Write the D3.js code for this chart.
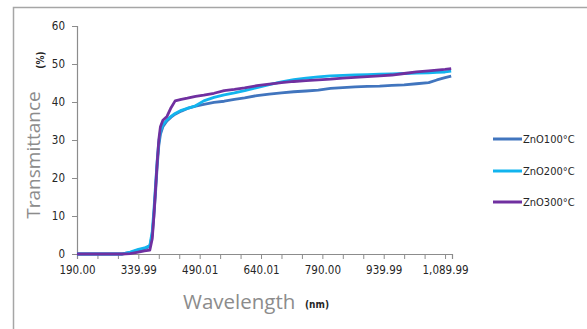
<!DOCTYPE html>
<html>
<head>
<meta charset="utf-8">
<script src="https://cdn.jsdelivr.net/npm/d3@7"></script>
<style>
  body { margin: 0; background: #fff; }
  svg { display: block; }
  .tick text { font-family: "Liberation Sans Narrow", "DejaVu Sans Condensed", sans-serif; font-size: 11.5px; fill: #262626; }
</style>
</head>
<body>
<svg id="chart" width="587" height="329"></svg>
<script>
// wavelengths (nm) shared by all three series
const wavelength = [190, 250, 300, 320, 340, 355, 368, 374, 378, 382, 386, 390, 394, 400, 410, 420, 430, 445, 460, 480, 500, 525, 550, 575, 600, 630, 660, 690, 720, 750, 780, 810, 840, 870, 900, 930, 960, 990, 1020, 1050, 1070, 1090, 1105];

const zno100 = [0, 0, 0, 0.4, 1.0, 1.4, 2.0, 5, 10, 16, 23, 28.5, 31.5, 33.5, 35, 36, 36.8, 37.6, 38.3, 38.9, 39.4, 39.9, 40.2, 40.7, 41.1, 41.7, 42.1, 42.4, 42.7, 42.9, 43.1, 43.6, 43.8, 44.0, 44.1, 44.2, 44.4, 44.5, 44.8, 45.1, 45.8, 46.4, 46.8];
const zno200 = [0, 0, 0, 0.5, 1.2, 1.6, 2.2, 6, 11.5, 18, 24.5, 29.5, 32.2, 34, 35.3, 36.2, 37, 37.8, 38.3, 39.0, 40.3, 41.2, 41.9, 42.4, 43.0, 43.8, 44.6, 45.3, 45.9, 46.3, 46.6, 46.9, 47.0, 47.1, 47.2, 47.3, 47.4, 47.5, 47.6, 47.7, 47.8, 47.9, 48.1];
const zno300 = [0, 0, 0, 0.1, 0.5, 0.8, 1.0, 4, 10, 17, 24, 30, 33.5, 35.2, 36.2, 38.5, 40.3, 40.7, 41.0, 41.5, 41.8, 42.3, 43.0, 43.3, 43.7, 44.3, 44.7, 45.1, 45.4, 45.6, 45.8, 46.0, 46.3, 46.5, 46.7, 46.9, 47.1, 47.5, 47.9, 48.2, 48.4, 48.6, 48.8];

const seriesNames = ['ZnO100°C', 'ZnO200°C', 'ZnO300°C'];
const seriesColors = ['#4175BE', '#12B4EE', '#7030A0'];

const xTickValues = [190, 240, 290, 340, 390, 440, 490, 540, 590, 640, 690, 740, 790, 840, 890, 940, 990, 1040, 1090];
const xTickLabels = ['190.00', '339.99', '490.01', '640.01', '790.00', '939.99', '1,089.99'];
const yTicks = [0, 10, 20, 30, 40, 50, 60];

const svg = d3.select('#chart');

// outer chart frame (only top/left edges fall inside the picture)
svg.append('rect')
    .attr('x', 13.5)
    .attr('y', 7.5)
    .attr('width', 700)
    .attr('height', 500)
    .attr('fill', 'none')
    .attr('stroke', '#a6a6a6')
    .attr('stroke-width', 1.5);

const x = d3.scaleLinear().domain([190, 1107]).range([77, 452]);
const y = d3.scaleLinear().domain([0, 60]).range([254, 26]);

// y axis
const yAxis = svg.append('g')
    .attr('transform', 'translate(77,0)')
    .call(d3.axisLeft(y).tickValues(yTicks).tickSize(5).tickPadding(7).tickFormat(d3.format('d')));

// x axis, a label on every third tick
const xAxis = svg.append('g')
    .attr('transform', 'translate(0,254)')
    .call(d3.axisBottom(x).tickValues(xTickValues).tickSize(5).tickPadding(7)
        .tickFormat((d, i) => (i % 3 === 0 ? xTickLabels[i / 3] : '')));

[xAxis, yAxis].forEach((g) => {
    g.select('.domain').attr('stroke', '#8c8c8c').attr('stroke-width', 1.2);
    g.selectAll('.tick line').attr('stroke', '#8c8c8c');
});

// lines
const series = [zno100, zno200, zno300];
const line = d3.line()
    .x((d, i) => x(wavelength[i]))
    .y((d) => y(d));

series.forEach((values, k) => {
    svg.append('path')
        .datum(values)
        .attr('fill', 'none')
        .attr('stroke', seriesColors[k])
        .attr('stroke-width', 2.8)
        .attr('stroke-linejoin', 'round')
        .attr('d', line);
});

// axis titles
svg.append('text')
    .attr('transform', 'translate(40,155) rotate(-90)')
    .attr('text-anchor', 'middle')
    .style('font-family', '"Open Sans", sans-serif')
    .style('font-size', '19px')
    .style('fill', '#8c8c8c')
    .text('Transmittance');

svg.append('text')
    .attr('transform', 'translate(44,60) rotate(-90)')
    .attr('text-anchor', 'middle')
    .style('font-family', '"Liberation Sans Narrow", "DejaVu Sans Condensed", sans-serif')
    .style('font-size', '10px')
    .style('font-weight', 'bold')
    .style('fill', '#262626')
    .text('(%)');

svg.append('text')
    .attr('x', 183)
    .attr('y', 309)
    .style('font-family', '"Open Sans", sans-serif')
    .style('font-size', '20.5px')
    .style('fill', '#8c8c8c')
    .text('Wavelength');

svg.append('text')
    .attr('x', 305)
    .attr('y', 308)
    .style('font-family', '"Liberation Sans Narrow", "DejaVu Sans Condensed", sans-serif')
    .style('font-size', '10px')
    .style('font-weight', 'bold')
    .style('fill', '#262626')
    .text('(nm)');

// legend
const legendY = [139, 171, 202];
seriesNames.forEach((name, k) => {
    svg.append('line')
        .attr('x1', 493)
        .attr('x2', 522)
        .attr('y1', legendY[k])
        .attr('y2', legendY[k])
        .attr('stroke', seriesColors[k])
        .attr('stroke-width', 3);
    svg.append('text')
        .attr('x', 523)
        .attr('y', legendY[k] + 4)
        .style('font-family', '"Liberation Sans Narrow", "DejaVu Sans Condensed", sans-serif')
        .style('font-size', '11px')
        .style('fill', '#262626')
        .text(name);
});
</script>
</body>
</html>
